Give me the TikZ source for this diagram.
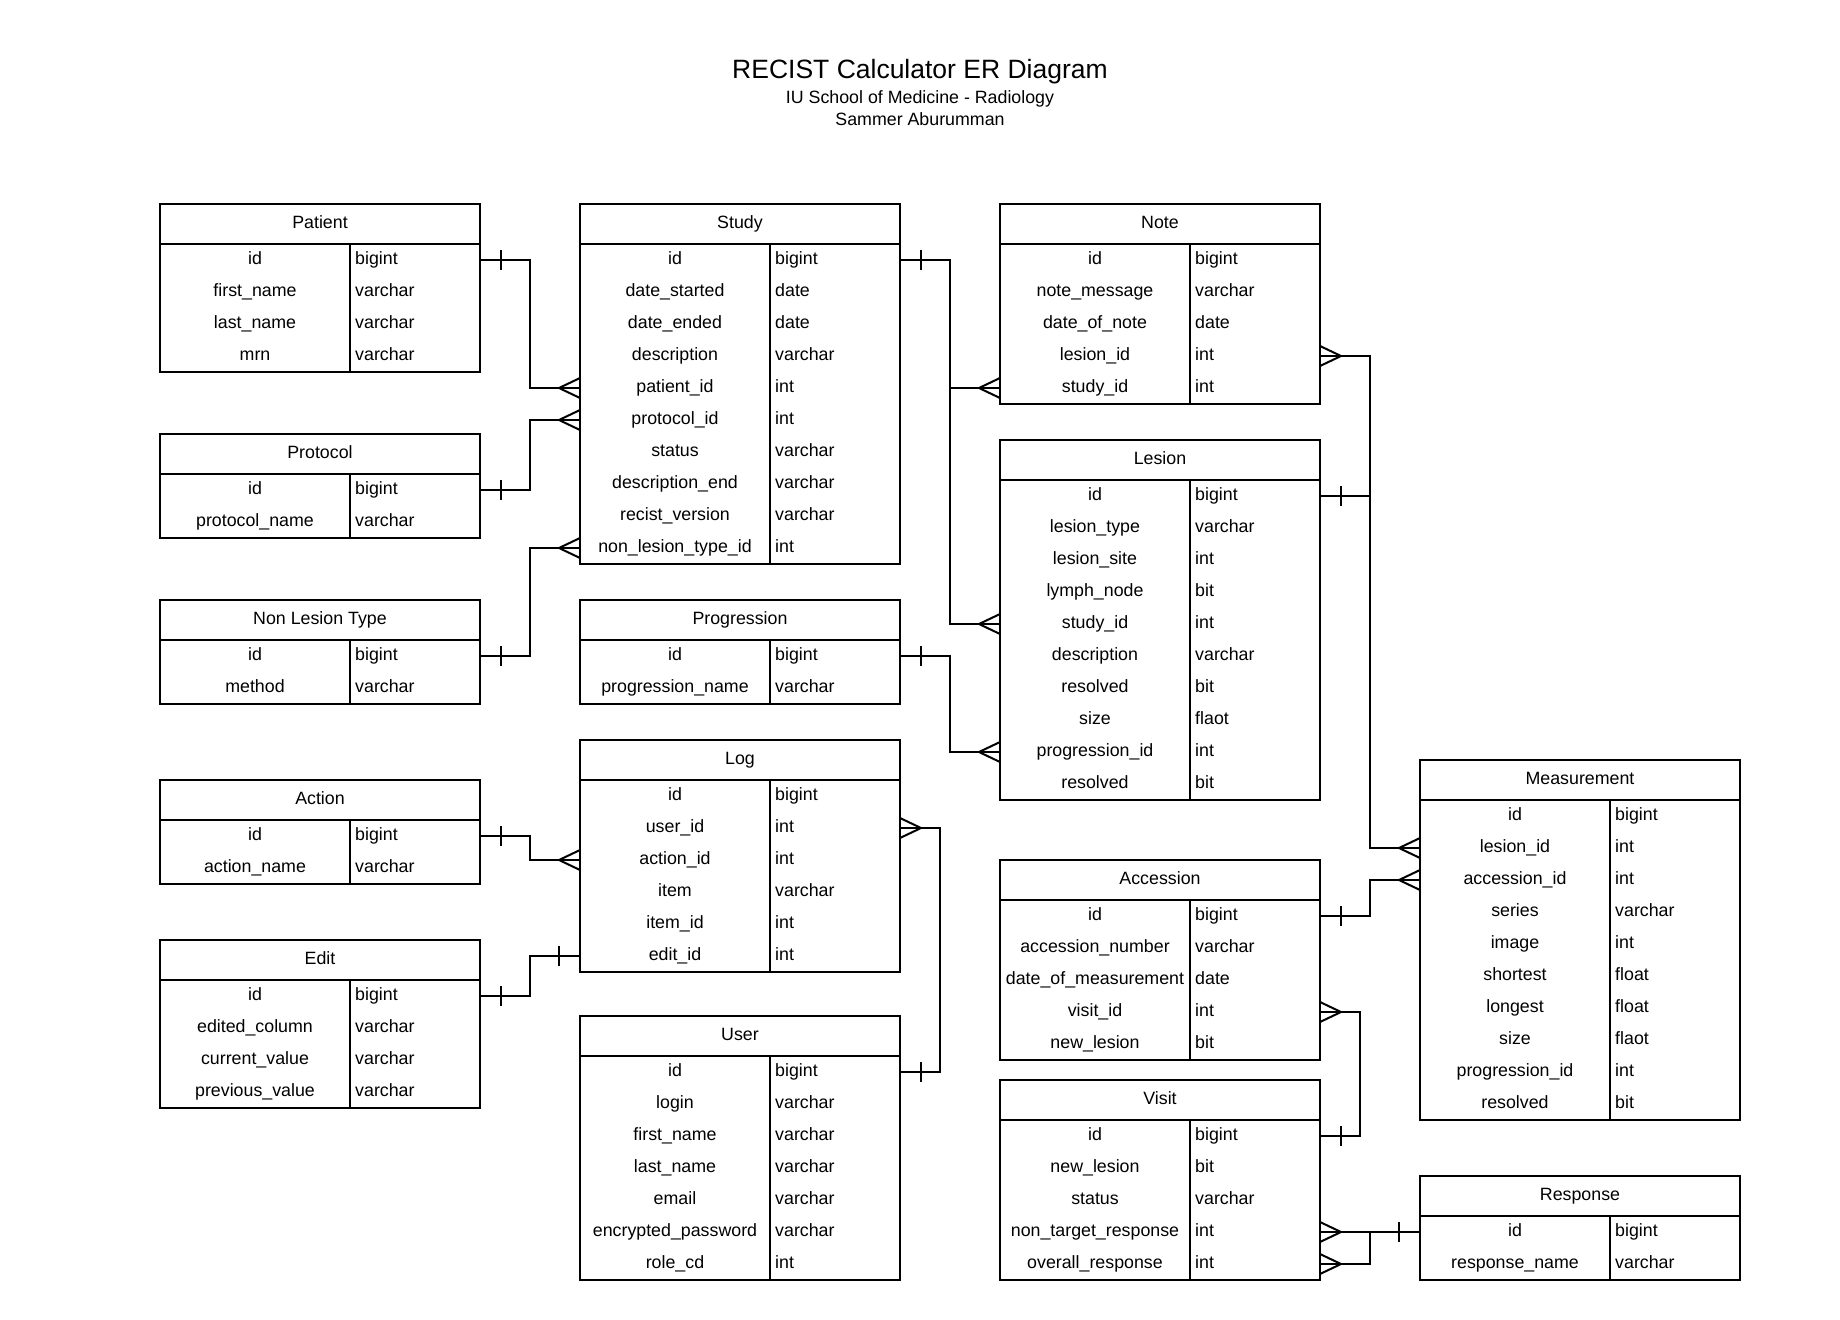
\documentclass[tikz,border=0pt]{standalone}
\usepackage{fontspec}
\setmainfont{Liberation Sans}
\usetikzlibrary{positioning}

\tikzset{
  erline/.style={line width=2pt},
  ertitle/.style={draw, erline, anchor=north west, minimum width=320pt, minimum height=40pt, inner sep=0pt, outer sep=0pt, text height=13pt, text depth=4pt},
  errow/.style={minimum width=320pt, minimum height=32pt, inner sep=0pt, outer sep=0pt},
  fieldname/.style={inner sep=0pt, text height=13pt, text depth=4pt},
  fieldtype/.style={fieldname, anchor=west},
  many/.pic={\draw[erline] (0,-10) -- (-21,0) -- (0,10);},
  one/.pic={\draw[erline] (-21,-10) -- (-21,10);},
}

% table: name, title, position, number of rows, rows
\newcommand{\ertable}[5]{%
  \node[ertitle, alias=#1-0] (#1) at #3 {#2};
  \foreach \fname/\ftype [count=\r] in {#5} {
    \pgfmathtruncatemacro{\rprev}{\r-1}
    \node[errow, below=0pt of #1-\rprev] (#1-\r) {};
    \node[fieldname] (#1-\r-n) at ([xshift=95pt]#1-\r.west) {\fname};
    \node[fieldtype] (#1-\r-t) at ([xshift=195pt]#1-\r.west) {\ftype};
  }
  \draw[erline] (#1.south west) rectangle (#1-#4.south east);
  \draw[erline] ([xshift=190pt]#1.south west) -- ([xshift=190pt]#1-#4.south west);
}

\begin{document}
\begin{tikzpicture}[x=1pt,y=-1pt,font=\fontsize{17.8}{22}\selectfont]
  \useasboundingbox (0,0) rectangle (1840,1320);

  \node[font=\fontsize{26.5}{30}\selectfont] (title) at (920,72) {RECIST Calculator ER Diagram};
  \node[align=center] (subtitle) at (920,108) {IU School of Medicine - Radiology\\Sammer Aburumman};

  \ertable{patient}{Patient}{(160,204)}{4}{id/bigint, first\_name/varchar, last\_name/varchar, mrn/varchar}
  \ertable{protocol}{Protocol}{(160,434)}{2}{id/bigint, protocol\_name/varchar}
  \ertable{nlt}{Non Lesion Type}{(160,600)}{2}{id/bigint, method/varchar}
  \ertable{action}{Action}{(160,780)}{2}{id/bigint, action\_name/varchar}
  \ertable{edit}{Edit}{(160,940)}{4}{id/bigint, edited\_column/varchar, current\_value/varchar, previous\_value/varchar}

  \ertable{study}{Study}{(580,204)}{10}{id/bigint, date\_started/date, date\_ended/date, description/varchar, patient\_id/int, protocol\_id/int, status/varchar, description\_end/varchar, recist\_version/varchar, non\_lesion\_type\_id/int}
  \ertable{progression}{Progression}{(580,600)}{2}{id/bigint, progression\_name/varchar}
  \ertable{log}{Log}{(580,740)}{6}{id/bigint, user\_id/int, action\_id/int, item/varchar, item\_id/int, edit\_id/int}
  \ertable{user}{User}{(580,1016)}{7}{id/bigint, login/varchar, first\_name/varchar, last\_name/varchar, email/varchar, encrypted\_password/varchar, role\_cd/int}

  \ertable{note}{Note}{(1000,204)}{5}{id/bigint, note\_message/varchar, date\_of\_note/date, lesion\_id/int, study\_id/int}
  \ertable{lesion}{Lesion}{(1000,440)}{10}{id/bigint, lesion\_type/varchar, lesion\_site/int, lymph\_node/bit, study\_id/int, description/varchar, resolved/bit, size/flaot, progression\_id/int, resolved/bit}
  \ertable{accession}{Accession}{(1000,860)}{5}{id/bigint, accession\_number/varchar, date\_of\_measurement/date, visit\_id/int, new\_lesion/bit}
  \ertable{visit}{Visit}{(1000,1080)}{5}{id/bigint, new\_lesion/bit, status/varchar, non\_target\_response/int, overall\_response/int}

  \ertable{measurement}{Measurement}{(1420,760)}{10}{id/bigint, lesion\_id/int, accession\_id/int, series/varchar, image/int, shortest/float, longest/float, size/flaot, progression\_id/int, resolved/bit}
  \ertable{response}{Response}{(1420,1176)}{2}{id/bigint, response\_name/varchar}

  % Patient, Protocol, Non Lesion Type -> Study
  \draw[erline] (patient-1.east) -- ++(50,0) |- (study-5.west);
  \draw[erline] (protocol-1.east) -- ++(50,0) |- (study-6.west);
  \draw[erline] (nlt-1.east) -- ++(50,0) |- (study-10.west);
  \pic[xscale=-1] at (patient-1.east) {one};
  \pic[xscale=-1] at (protocol-1.east) {one};
  \pic[xscale=-1] at (nlt-1.east) {one};
  \pic at (study-5.west) {many};
  \pic at (study-6.west) {many};
  \pic at (study-10.west) {many};

  % Study, Progression -> Note, Lesion
  \draw[erline] (study-1.east) -- ++(50,0) |- (note-5.west);
  \draw[erline] (study-1.east) -- ++(50,0) |- (lesion-5.west);
  \draw[erline] (progression-1.east) -- ++(50,0) |- (lesion-9.west);
  \pic[xscale=-1] at (study-1.east) {one};
  \pic[xscale=-1] at (progression-1.east) {one};
  \pic at (note-5.west) {many};
  \pic at (lesion-5.west) {many};
  \pic at (lesion-9.west) {many};

  % Action, Edit, User -> Log
  \draw[erline] (action-1.east) -- ++(50,0) |- (log-3.west);
  \draw[erline] (edit-1.east) -- ++(50,0) |- (log-6.west);
  \draw[erline] (user-1.east) -- ++(40,0) |- (log-2.east);
  \pic[xscale=-1] at (action-1.east) {one};
  \pic[xscale=-1] at (edit-1.east) {one};
  \pic[xscale=-1] at (user-1.east) {one};
  \pic at (log-3.west) {many};
  \pic at (log-6.west) {one};
  \pic[xscale=-1] at (log-2.east) {many};

  % Lesion -> Note, Measurement; Accession -> Measurement
  \draw[erline] (lesion-1.east) -- ++(50,0) |- (note-4.east);
  \draw[erline] (lesion-1.east) -- ++(50,0) |- (measurement-2.west);
  \draw[erline] (accession-1.east) -- ++(50,0) |- (measurement-3.west);
  \pic[xscale=-1] at (lesion-1.east) {one};
  \pic[xscale=-1] at (accession-1.east) {one};
  \pic[xscale=-1] at (note-4.east) {many};
  \pic at (measurement-2.west) {many};
  \pic at (measurement-3.west) {many};

  % Visit -> Accession; Response -> Visit
  \draw[erline] (visit-1.east) -- ++(40,0) |- (accession-4.east);
  \draw[erline] (response-1.west) -- (visit-4.east);
  \draw[erline] (response-1.west) -- ++(-50,0) |- (visit-5.east);
  \pic[xscale=-1] at (visit-1.east) {one};
  \pic at (response-1.west) {one};
  \pic[xscale=-1] at (accession-4.east) {many};
  \pic[xscale=-1] at (visit-4.east) {many};
  \pic[xscale=-1] at (visit-5.east) {many};
\end{tikzpicture}
\end{document}
